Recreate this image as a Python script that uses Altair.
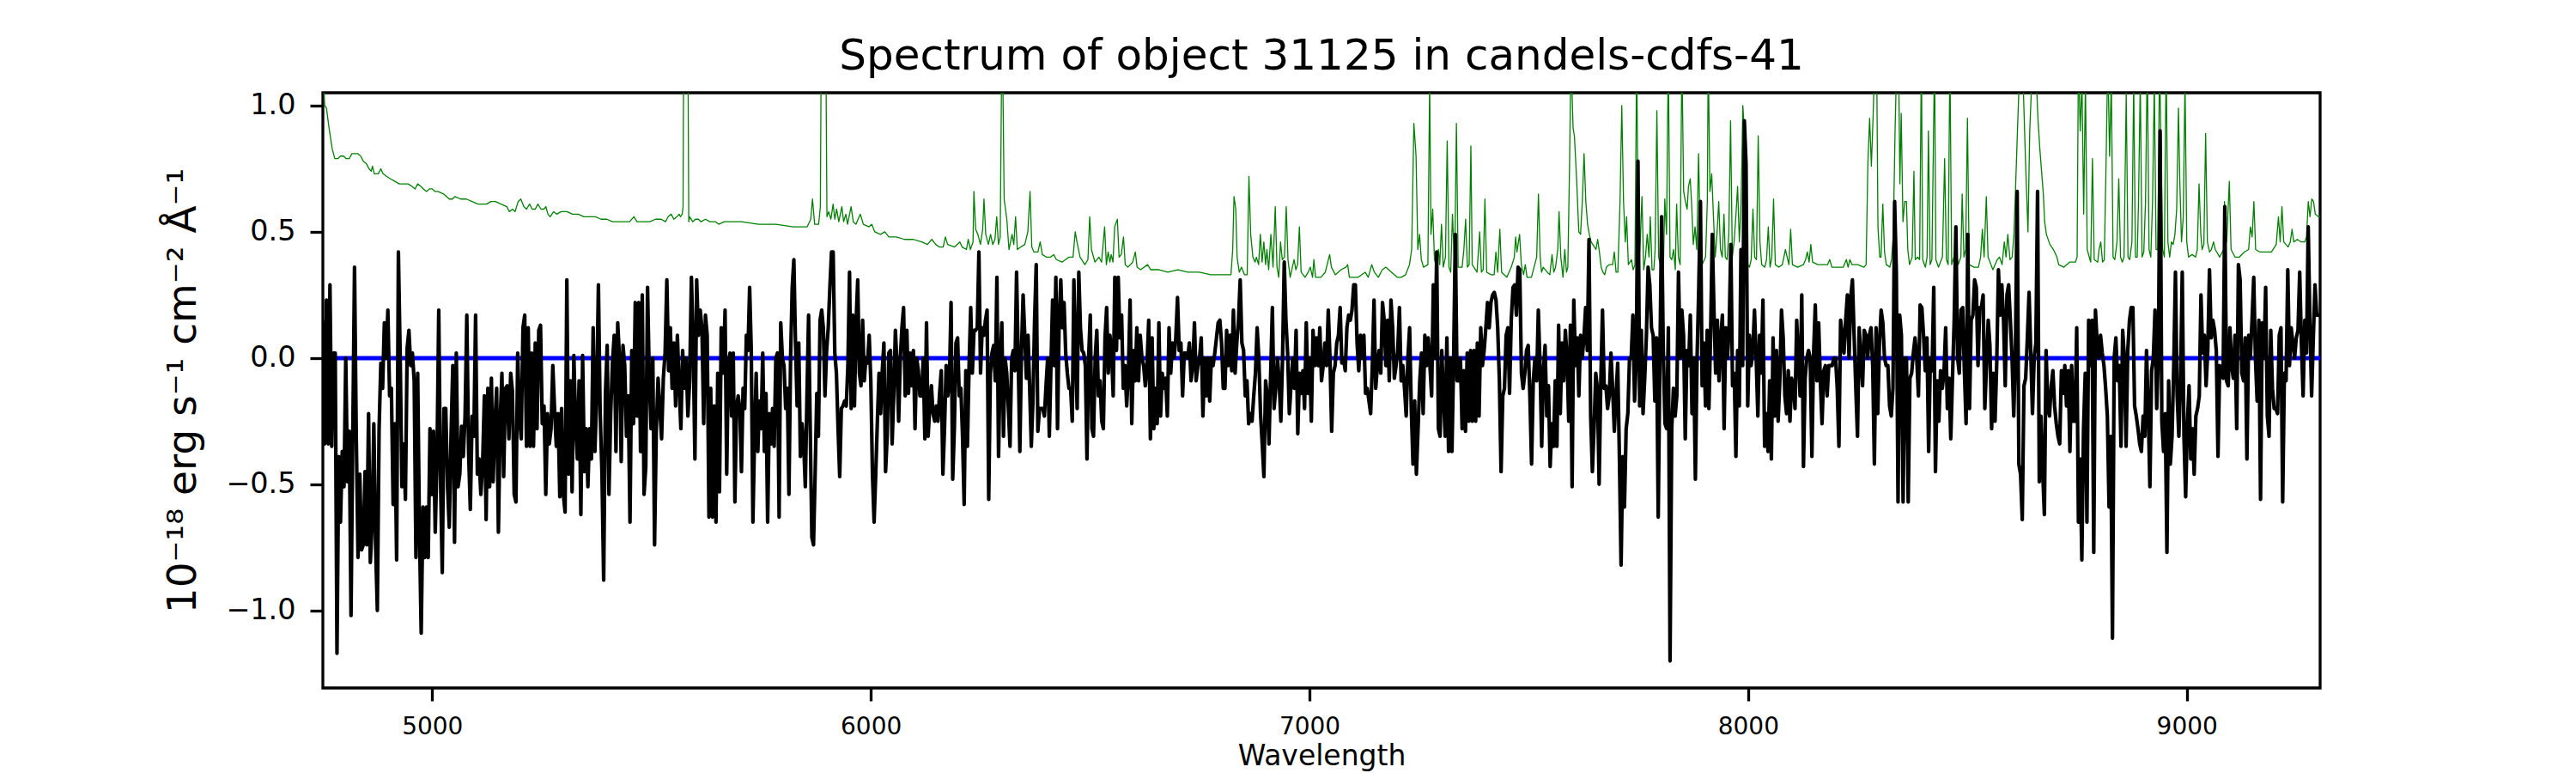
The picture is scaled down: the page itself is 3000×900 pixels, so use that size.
import altair as alt
import numpy as np
import pandas as pd

TITLE = "Spectrum of object 31125 in candels-cdfs-41"
Y_TITLE = "10⁻¹⁸ erg s⁻¹ cm⁻² Å⁻¹"
X_TITLE = "Wavelength"
X_TICKS = [5000, 6000, 7000, 8000, 9000]
Y_TICKS = [-1.0, -0.5, 0.0, 0.5, 1.0]

# wavelength span (Angstrom) of each stretch of the flux spectrum
seg_ranges = [(4751, 5659), (5664, 6560), (6564, 7460), (7464, 8361), (8365, 9304)]

flux_1 = [0.15, -0.34, 0.23, -0.34, 0.29, -0.35, 0.02, 0.02, -1.17, -0.39, -0.65, -0.37, -0.51, 0.00, -0.49, -0.29, -1.02, -0.31, 0.36, -0.31, -0.79, -0.46, -0.76, -0.74, -0.45, -0.74, -0.22, -0.81, -0.66, -0.26, -0.74, -1.00, -0.28, -0.02, -0.12, 0.14, 0.00, 0.19, -0.15, -0.12, -0.58, -0.26, -0.80, 0.42, 0.02, -0.51, -0.34, -0.56, 0.04, 0.11, -0.03, 0.02, -0.09, -0.79, -0.06, -0.68, -1.09, -0.59, -0.79, -0.59, -0.79, -0.28, -0.54, -0.29, -0.69, -0.40, 0.19, -0.48, -0.85, -0.20, -0.20, -0.51, -0.67, -0.31, -0.03, -0.73, 0.02, -0.51, -0.46, -0.27, -0.39, -0.23, 0.17, -0.37, -0.60, -0.23, -0.31, 0.17, -0.46, -0.40, -0.54, -0.42, -0.15, -0.64, -0.12, -0.51, -0.08, -0.49, -0.26, -0.12, -0.69, -0.25, -0.06, -0.47, -0.12, -0.11, -0.32, -0.06, -0.13, -0.54, -0.57, 0.02, -0.23, -0.32, 0.12, 0.17, -0.35, 0.12, -0.35, 0.02, -0.35, 0.06, -0.28, 0.11, 0.13, -0.26, -0.19, -0.54, -0.22, -0.34, -0.28, -0.03, -0.20, -0.35, -0.22, -0.55, -0.20, -0.54, -0.61, 0.31, -0.46, -0.09, -0.53, 0.01, -0.26, -0.40, -0.09, -0.62, 0.01, -0.45, -0.28, -0.51, -0.28, -0.40, 0.12, -0.37, -0.15, 0.29, -0.22, -0.45, -0.88, -0.14, 0.05, -0.54, -0.22, -0.02, 0.09, -0.37, 0.14, 0.00, -0.41, 0.05, -0.03, -0.31, -0.15, -0.65, 0.03, -0.26, 0.22, -0.23, 0.22, -0.37, 0.25, -0.54, -0.43, 0.28, -0.08, -0.28, 0.00, -0.74, -0.28, -0.08, -0.20, -0.32, -0.08, 0.02, 0.31, -0.05, 0.12, -0.12, 0.06, -0.19, 0.09, -0.11, -0.28, 0.03, -0.12, 0.00, -0.23, -0.09, 0.32, 0.06, -0.40, 0.31, 0.09, 0.19, 0.12, -0.26, 0.17, 0.09, -0.63, -0.12, -0.63, -0.19, -0.65, -0.06, -0.53, 0.12]

flux_2 = [-0.06, 0.19, -0.46, -0.03, 0.02, -0.23, 0.02, -0.57, -0.19, -0.15, -0.20, -0.45, -0.12, -0.20, 0.09, 0.03, 0.28, 0.03, -0.65, -0.31, -0.06, -0.37, -0.17, -0.28, 0.02, -0.37, -0.14, -0.65, -0.22, -0.34, -0.20, -0.35, 0.00, 0.02, -0.63, 0.14, 0.00, -0.03, -0.20, -0.12, -0.54, 0.00, 0.28, 0.39, 0.06, -0.19, 0.06, -0.39, -0.26, -0.34, -0.51, -0.15, 0.17, -0.28, -0.71, -0.74, -0.46, -0.14, -0.31, 0.15, 0.19, 0.12, -0.15, 0.03, 0.12, 0.28, 0.42, 0.42, 0.02, -0.06, -0.28, -0.47, -0.20, -0.19, -0.17, -0.19, -0.03, 0.34, -0.20, 0.17, -0.19, 0.14, 0.31, -0.06, -0.11, 0.15, -0.09, 0.00, -0.02, 0.09, -0.09, -0.46, -0.65, -0.46, -0.25, -0.06, -0.22, -0.05, 0.06, -0.45, -0.31, 0.02, 0.03, -0.34, -0.15, 0.11, -0.03, -0.25, 0.00, 0.12, 0.20, -0.15, 0.11, -0.14, 0.02, -0.11, 0.03, -0.28, 0.00, -0.05, -0.15, -0.15, 0.00, -0.32, 0.14, -0.31, -0.19, -0.11, -0.22, -0.25, -0.19, -0.25, -0.14, -0.05, -0.46, -0.28, -0.03, -0.15, -0.09, 0.22, -0.48, -0.28, 0.06, 0.08, -0.15, -0.12, -0.31, -0.58, -0.05, -0.35, -0.03, 0.20, -0.06, 0.11, 0.11, 0.12, 0.42, -0.06, 0.12, 0.09, 0.15, 0.19, -0.56, -0.06, 0.02, 0.05, -0.09, 0.32, -0.39, -0.03, 0.14, -0.31, 0.00, -0.06, -0.20, -0.35, 0.00, 0.03, -0.05, 0.34, 0.00, -0.37, 0.03, 0.25, 0.09, -0.08, 0.09, -0.12, -0.35, -0.17, 0.15, 0.37, -0.29, -0.20, -0.20, -0.20, -0.23, -0.11, 0.00, -0.31, -0.03, 0.23, -0.03, 0.32, -0.28, 0.15, 0.31, 0.12, 0.22, 0.02, -0.06, -0.12, -0.12, -0.25, 0.31, 0.03, -0.20, 0.34, 0.12, 0.03, 0.02, -0.03, -0.40, 0.00, 0.17, -0.28, -0.31, 0.00, 0.11, -0.15, -0.09, -0.25, -0.28, 0.08, 0.20, -0.06, 0.09, 0.03, -0.15, 0.32, 0.03]

flux_3 = [0.32, 0.08, 0.17, -0.12, -0.03, -0.19, -0.06, 0.23, -0.26, 0.03, -0.09, 0.12, -0.09, 0.09, 0.00, -0.03, -0.11, -0.03, 0.15, -0.32, 0.08, -0.28, -0.12, -0.26, 0.14, -0.23, -0.06, -0.12, -0.08, -0.23, 0.12, -0.06, 0.06, 0.00, 0.08, 0.24, 0.03, 0.06, -0.15, 0.02, 0.02, 0.00, 0.06, -0.09, -0.03, 0.14, -0.09, -0.03, 0.00, 0.08, -0.23, 0.00, -0.15, 0.00, -0.17, 0.00, -0.03, 0.02, 0.08, 0.14, 0.15, 0.06, -0.12, -0.12, 0.11, -0.03, 0.09, -0.05, 0.19, -0.06, 0.06, 0.15, 0.31, 0.06, 0.03, -0.15, -0.09, -0.26, -0.22, -0.25, -0.15, -0.06, 0.12, 0.00, -0.22, -0.34, -0.47, -0.09, -0.15, -0.34, -0.06, 0.20, -0.20, -0.12, 0.00, -0.09, -0.25, 0.00, 0.38, 0.15, 0.02, -0.22, -0.11, 0.00, -0.12, 0.11, -0.30, -0.06, -0.14, -0.05, -0.20, 0.14, -0.14, 0.00, -0.25, 0.11, -0.03, 0.08, -0.03, 0.12, -0.09, -0.03, 0.06, -0.03, 0.19, 0.00, -0.29, -0.06, -0.03, 0.06, 0.09, 0.20, -0.02, 0.00, -0.05, 0.12, 0.17, 0.15, 0.19, 0.29, 0.29, 0.06, -0.05, 0.09, 0.00, 0.09, -0.14, -0.12, -0.17, -0.22, -0.03, 0.23, -0.12, -0.03, 0.03, -0.06, 0.22, 0.15, -0.03, 0.15, -0.09, 0.23, 0.12, -0.08, -0.03, 0.03, 0.20, -0.09, -0.03, -0.12, -0.23, 0.00, 0.12, -0.20, -0.42, -0.17, -0.46, -0.28, -0.09, 0.02, -0.22, 0.09, -0.03, 0.08, -0.03, -0.15, 0.29, 0.00, 0.42, -0.28, -0.31, 0.03, -0.15, -0.31, 0.08, -0.37, 0.00, -0.37, 0.00, 0.49, -0.09, -0.09, 0.00, -0.28, -0.05, -0.29, 0.02, -0.25, 0.03, -0.25, 0.03, -0.25, 0.06, -0.23, 0.12, -0.03, 0.03, 0.12, 0.22, 0.12, 0.22, 0.25, 0.26, 0.23, 0.12, -0.09, -0.45, -0.15, -0.12, 0.09, 0.12, -0.14, 0.15]

flux_4 = [0.28, 0.29, 0.17, 0.36, 0.35, -0.06, -0.12, -0.06, 0.03, 0.05, -0.15, -0.42, -0.09, 0.00, -0.09, 0.19, -0.03, -0.35, -0.05, 0.05, -0.23, -0.11, -0.43, -0.26, -0.35, -0.09, -0.35, 0.13, -0.22, 0.06, -0.09, 0.11, 0.00, -0.25, 0.13, -0.51, 0.23, -0.03, 0.08, -0.15, 0.09, 0.00, 0.08, 0.20, 0.03, 0.47, -0.23, -0.45, -0.28, -0.06, -0.12, -0.50, -0.09, 0.19, -0.12, -0.11, -0.20, -0.15, 0.02, -0.12, -0.29, -0.15, -0.02, -0.39, -0.82, -0.39, -0.59, -0.28, -0.22, 0.00, 0.00, 0.17, -0.17, 0.00, 0.78, -0.19, 0.11, -0.22, -0.08, 0.09, 0.36, 0.29, 0.12, 0.09, -0.17, 0.08, -0.63, 0.00, 0.56, 0.03, -0.26, -0.28, 0.12, -1.20, -0.28, -0.12, -0.23, -0.15, 0.34, 0.00, 0.19, 0.09, -0.32, 0.03, -0.03, 0.17, -0.22, 0.00, -0.48, 0.00, 0.28, 0.62, -0.11, 0.06, -0.19, 0.11, -0.20, 0.09, 0.49, 0.19, -0.06, 0.15, -0.09, 0.08, 0.17, -0.28, 0.12, 0.00, 0.12, 0.45, -0.11, -0.06, -0.39, 0.03, -0.19, 0.43, -0.03, 0.94, 0.77, -0.19, 0.09, -0.03, 0.03, 0.19, 0.00, -0.23, 0.09, -0.06, 0.23, -0.35, -0.22, -0.37, -0.09, -0.40, 0.08, -0.23, 0.03, -0.25, -0.09, 0.19, 0.08, -0.15, -0.22, -0.05, -0.25, -0.08, -0.11, -0.20, 0.15, 0.00, -0.15, 0.25, -0.43, -0.08, 0.00, 0.03, 0.00, -0.39, 0.02, 0.21, -0.09, 0.14, -0.09, -0.26, -0.05, -0.03, -0.15, -0.03, -0.03, -0.03, 0.00, 0.00, -0.12, -0.35, 0.15, 0.09, 0.02, 0.15, 0.25, 0.00, 0.24, 0.31, 0.09, -0.12, -0.31, 0.12, 0.00, -0.11, 0.11, 0.09, 0.00, 0.09, 0.12, -0.03, -0.42, 0.12, -0.22, 0.06, 0.19, 0.14, 0.00, -0.03, -0.03, -0.19, -0.23, -0.12, 0.62, 0.34, -0.57, 0.17, 0.09, -0.57, 0.00, 0.00]

flux_5 = [-0.57, -0.08, -0.06, 0.02, 0.08, 0.00, -0.15, 0.21, 0.20, 0.09, -0.05, 0.08, -0.37, 0.00, -0.05, 0.28, -0.45, -0.09, -0.25, -0.05, -0.12, -0.06, 0.12, -0.20, -0.08, -0.32, -0.08, 0.15, 0.52, 0.00, -0.06, 0.19, 0.20, -0.05, -0.26, 0.49, -0.20, 0.15, 0.17, 0.31, 0.28, -0.03, 0.20, 0.20, 0.25, -0.20, -0.03, 0.15, 0.05, -0.28, -0.06, -0.25, -0.02, 0.35, 0.17, 0.29, 0.15, -0.11, 0.25, 0.29, 0.15, 0.00, -0.23, 0.03, 0.66, -0.42, -0.46, -0.64, -0.11, -0.08, 0.08, 0.26, 0.02, -0.22, 0.00, 0.06, 0.66, -0.49, -0.23, -0.45, -0.62, 0.03, -0.19, -0.23, -0.11, -0.05, -0.19, -0.26, -0.31, -0.34, -0.05, -0.14, -0.03, -0.19, -0.05, -0.37, -0.03, -0.25, -0.25, 0.12, -0.65, -0.40, -0.80, -0.28, -0.06, -0.65, 0.15, -0.03, 0.15, -0.77, 0.19, 0.06, 0.00, 0.09, 0.02, -0.03, -0.12, -0.23, -0.59, -0.31, -1.11, 0.00, 0.08, -0.09, -0.03, -0.35, 0.11, 0.00, -0.35, 0.03, 0.15, 0.20, 0.20, -0.19, -0.23, -0.28, -0.34, -0.37, -0.23, -0.31, 0.03, -0.20, -0.51, -0.05, 0.00, 0.19, -0.20, 0.03, 0.90, -0.25, -0.37, -0.22, -0.77, -0.09, -0.42, -0.31, -0.03, 0.34, -0.15, -0.31, -0.09, 0.34, -0.31, -0.55, -0.26, -0.11, -0.40, -0.28, -0.46, -0.23, -0.20, -0.15, 0.25, 0.02, 0.09, -0.11, 0.03, 0.35, 0.08, 0.15, 0.11, 0.03, -0.39, -0.03, -0.06, -0.08, 0.60, -0.09, -0.11, 0.12, -0.03, -0.08, 0.09, -0.28, 0.37, 0.31, -0.06, -0.09, 0.08, -0.40, 0.09, 0.00, 0.15, 0.32, 0.00, -0.17, 0.15, -0.56, 0.14, 0.00, 0.28, -0.23, -0.31, 0.11, -0.12, -0.20, -0.20, -0.22, 0.09, 0.12, -0.57, -0.06, -0.09, 0.35, -0.03, 0.12, 0.06, 0.00, 0.08, 0.11, 0.34, 0.06, -0.15, 0.15, 0.02, 0.52, 0.15, -0.15, 0.08, 0.29, 0.17, 0.17, 0.17]

# noise (sky) spectrum: wavelengths and values
noise_wl = [4751, 4755, 4759, 4765, 4772, 4778, 4785, 4791, 4798, 4804, 4811, 4817, 4823, 4830, 4837, 4843, 4850, 4856, 4861, 4864, 4868, 4873, 4877, 4883, 4888, 4896, 4905, 4915, 4925, 4935, 4945, 4954, 4961, 4967, 4974, 4980, 4987, 4994, 5000, 5007, 5013, 5026, 5039, 5046, 5052, 5065, 5078, 5091, 5104, 5114, 5124, 5134, 5144, 5157, 5170, 5176, 5183, 5189, 5196, 5202, 5209, 5215, 5222, 5228, 5235, 5241, 5248, 5255, 5259, 5264, 5269, 5277, 5284, 5294, 5307, 5320, 5333, 5346, 5359, 5372, 5385, 5398, 5411, 5424, 5437, 5450, 5460, 5467, 5483, 5496, 5509, 5522, 5532, 5538, 5545, 5551, 5558, 5563, 5566, 5570, 5572, 5574, 5582, 5585, 5587, 5594, 5600, 5607, 5613, 5623, 5633, 5646, 5653,
            5666, 5705, 5744, 5784, 5823, 5855, 5863, 5867, 5872, 5881, 5885, 5888, 5896, 5900, 5904, 5909, 5914, 5918, 5922, 5927, 5934, 5938, 5943, 5947, 5955, 5960, 5966, 5976, 5983, 5996, 6002, 6009, 6022, 6032, 6041, 6058, 6077, 6097, 6116, 6129, 6139, 6148, 6156, 6165, 6170, 6175, 6191, 6203, 6208, 6218, 6222, 6227, 6233, 6235, 6239, 6244, 6250, 6255, 6258, 6262, 6268, 6273, 6278, 6283, 6287, 6291, 6295, 6298, 6301, 6304, 6310, 6315, 6322, 6326, 6330, 6334, 6342, 6351, 6358, 6363, 6367, 6372, 6381, 6386, 6391, 6400, 6410, 6417, 6423, 6436, 6452, 6461, 6466, 6470, 6477, 6488, 6495, 6499, 6503, 6511, 6520, 6526, 6533, 6537, 6541, 6545, 6548, 6552, 6556,
            6562, 6566, 6571, 6576, 6580, 6586, 6597, 6603, 6607, 6615, 6631, 6638, 6657, 6677, 6700, 6723, 6749, 6775, 6801, 6821, 6825, 6828, 6832, 6835, 6840, 6845, 6852, 6858, 6862, 6866, 6871, 6876, 6879, 6884, 6888, 6892, 6896, 6900, 6903, 6907, 6912, 6917, 6922, 6926, 6930, 6934, 6938, 6943, 6947, 6951, 6956, 6961, 6965, 6969, 6973, 6977, 6981, 6990, 6997, 7002, 7007, 7010, 7014, 7026, 7036, 7046, 7050, 7059, 7072, 7083, 7087, 7091, 7111, 7127, 7134, 7142, 7148, 7157, 7166, 7174, 7187, 7200, 7209, 7219, 7228, 7233, 7238, 7243, 7247, 7251, 7255, 7260, 7270, 7274, 7277, 7281, 7285, 7290, 7294, 7297, 7301, 7305, 7310, 7314, 7318, 7322, 7326, 7331, 7335, 7339, 7348, 7352, 7356, 7360, 7364, 7368, 7371, 7382, 7388, 7392, 7396, 7400, 7404, 7414, 7421, 7425, 7429, 7434, 7438, 7450,
            7460, 7467, 7470, 7473, 7479, 7483, 7488, 7492, 7496, 7506, 7512, 7518, 7522, 7526, 7529, 7533, 7542, 7548, 7553, 7557, 7561, 7566, 7569, 7573, 7578, 7582, 7586, 7589, 7593, 7596, 7601, 7604, 7609, 7614, 7618, 7622, 7626, 7630, 7634, 7638, 7642, 7646, 7653, 7657, 7661, 7665, 7669, 7673, 7677, 7683, 7691, 7695, 7699, 7703, 7708, 7712, 7716, 7720, 7723, 7727, 7734, 7738, 7742, 7746, 7750, 7754, 7758, 7762, 7766, 7770, 7774, 7777, 7781, 7785, 7788, 7792, 7796, 7800, 7804, 7807, 7810, 7814, 7818, 7822, 7826, 7830, 7834, 7837, 7841, 7845, 7849, 7853, 7857, 7861, 7864, 7868, 7871, 7875, 7879, 7883, 7887, 7891, 7895, 7903, 7907, 7909, 7913, 7917, 7921, 7925, 7929, 7933, 7937, 7941, 7945, 7948, 7952, 7956, 7960, 7964, 7968, 7972, 7976, 7980, 7984, 7988, 7991, 7995, 7999, 8003, 8007, 8011, 8015, 8019, 8023, 8027, 8031, 8038, 8042, 8046, 8050, 8054, 8058, 8062, 8070, 8078, 8085, 8089, 8093, 8097, 8101, 8113, 8126, 8131, 8135, 8139, 8143, 8147, 8159, 8170, 8181, 8186, 8191, 8204, 8217, 8224, 8228, 8232, 8237, 8250, 8264, 8269, 8273, 8277, 8281, 8285, 8289, 8293, 8296, 8300, 8303, 8307, 8311, 8315, 8323, 8327, 8331, 8335, 8339, 8343, 8346, 8349, 8353, 8357,
            8361, 8364, 8368, 8374, 8378, 8381, 8387, 8391, 8395, 8398, 8404, 8408, 8411, 8415, 8419, 8425, 8428, 8434, 8443, 8448, 8452, 8456, 8460, 8464, 8469, 8474, 8479, 8485, 8488, 8492, 8496, 8500, 8504, 8515, 8525, 8530, 8534, 8538, 8543, 8547, 8558, 8568, 8573, 8579, 8584, 8588, 8592, 8597, 8602, 8606, 8610, 8614, 8618, 8626, 8632, 8638, 8642, 8649, 8657, 8661, 8665, 8669, 8673, 8676, 8680, 8688, 8696, 8704, 8708, 8720, 8733, 8746, 8750, 8753, 8757, 8761, 8765, 8769, 8773, 8781, 8785, 8789, 8797, 8800, 8804, 8808, 8812, 8816, 8820, 8824, 8828, 8832, 8836, 8841, 8845, 8849, 8853, 8857, 8862, 8866, 8870, 8875, 8879, 8883, 8887, 8890, 8894, 8898, 8902, 8906, 8910, 8914, 8918, 8922, 8926, 8930, 8934, 8938, 8941, 8945, 8949, 8953, 8957, 8961, 8965, 8969, 8973, 8977, 8981, 8984, 8988, 8992, 8996, 9000, 9004, 9012, 9020, 9024, 9028, 9032, 9035, 9039, 9043, 9047, 9052, 9056, 9061, 9065, 9075, 9084, 9086, 9091, 9097, 9101, 9110, 9120, 9131, 9141, 9145, 9149, 9153, 9157, 9167, 9183, 9193, 9204, 9209, 9213, 9217, 9221, 9231, 9236, 9240, 9244, 9252, 9261, 9269, 9273, 9277, 9281, 9285, 9289, 9293, 9300, 9304]

noise_val = [1.15, 1.00, 0.99, 0.91, 0.83, 0.79, 0.79, 0.80, 0.80, 0.79, 0.79, 0.81, 0.81, 0.81, 0.80, 0.78, 0.77, 0.75, 0.74, 0.76, 0.73, 0.73, 0.73, 0.75, 0.73, 0.72, 0.71, 0.70, 0.69, 0.69, 0.69, 0.68, 0.67, 0.69, 0.68, 0.67, 0.66, 0.67, 0.67, 0.66, 0.66, 0.65, 0.63, 0.63, 0.64, 0.63, 0.63, 0.62, 0.61, 0.61, 0.61, 0.62, 0.62, 0.61, 0.60, 0.58, 0.59, 0.58, 0.62, 0.63, 0.60, 0.59, 0.61, 0.59, 0.59, 0.61, 0.59, 0.59, 0.60, 0.57, 0.56, 0.58, 0.57, 0.58, 0.58, 0.57, 0.57, 0.56, 0.56, 0.56, 0.55, 0.55, 0.54, 0.54, 0.54, 0.54, 0.56, 0.54, 0.54, 0.54, 0.55, 0.55, 0.54, 0.56, 0.57, 0.55, 0.56, 0.57, 0.56, 0.57, 0.60, 1.60, 1.60, 0.54, 0.56, 0.54, 0.55, 0.55, 0.54, 0.55, 0.54, 0.54, 0.53,
             0.54, 0.54, 0.53, 0.53, 0.52, 0.52, 0.55, 0.63, 0.53, 0.53, 0.60, 1.60, 1.60, 0.56, 0.58, 0.55, 0.61, 0.55, 0.59, 0.54, 0.60, 0.54, 0.57, 0.53, 0.60, 0.54, 0.53, 0.57, 0.53, 0.52, 0.53, 0.50, 0.49, 0.50, 0.48, 0.48, 0.47, 0.47, 0.46, 0.45, 0.47, 0.45, 0.44, 0.44, 0.48, 0.45, 0.44, 0.46, 0.44, 0.43, 0.47, 0.43, 0.46, 0.66, 0.51, 0.49, 0.45, 0.51, 0.63, 0.49, 0.45, 0.49, 0.45, 0.47, 0.56, 0.45, 0.48, 1.10, 1.10, 0.63, 0.55, 0.43, 0.49, 0.45, 0.56, 0.43, 0.44, 0.45, 0.50, 0.66, 0.44, 0.42, 0.42, 0.46, 0.41, 0.40, 0.40, 0.41, 0.39, 0.38, 0.40, 0.40, 0.50, 0.46, 0.40, 0.37, 0.39, 0.56, 0.43, 0.38, 0.40, 0.38, 0.52, 0.37, 0.42, 0.38, 0.41, 0.38, 0.52,
             0.55, 0.40, 0.41, 0.48, 0.37, 0.36, 0.38, 0.42, 0.36, 0.35, 0.37, 0.35, 0.35, 0.34, 0.35, 0.34, 0.34, 0.33, 0.33, 0.33, 0.43, 0.64, 0.59, 0.40, 0.34, 0.36, 0.33, 0.33, 0.72, 0.49, 0.40, 0.38, 0.40, 0.37, 0.49, 0.38, 0.46, 0.37, 0.43, 0.35, 0.49, 0.36, 0.60, 0.36, 0.32, 0.46, 0.39, 0.40, 0.60, 0.39, 0.32, 0.36, 0.39, 0.35, 0.37, 0.52, 0.34, 0.32, 0.34, 0.36, 0.32, 0.39, 0.32, 0.32, 0.34, 0.41, 0.36, 0.33, 0.35, 0.36, 0.37, 0.32, 0.32, 0.34, 0.32, 0.37, 0.34, 0.32, 0.35, 0.36, 0.34, 0.32, 0.32, 0.33, 0.37, 0.43, 0.93, 0.80, 0.43, 0.49, 0.39, 0.36, 0.37, 1.10, 0.49, 0.59, 0.39, 0.36, 0.43, 0.37, 0.53, 0.36, 0.40, 0.86, 0.36, 0.34, 0.57, 0.36, 0.93, 0.36, 0.36, 0.43, 0.55, 0.36, 0.37, 0.84, 0.37, 0.34, 0.50, 0.34, 0.35, 0.63, 0.34, 0.33, 0.33, 0.42, 0.34, 0.51, 0.34, 0.32,
             0.36, 0.40, 0.48, 0.42, 0.49, 0.37, 0.33, 0.37, 0.32, 0.32, 0.36, 0.40, 0.65, 0.40, 0.34, 0.36, 0.34, 0.33, 0.41, 0.34, 0.36, 0.43, 0.58, 0.40, 0.32, 0.43, 0.34, 0.36, 0.77, 1.20, 0.91, 0.88, 0.71, 0.50, 0.49, 0.62, 0.81, 0.62, 0.53, 0.49, 0.46, 0.45, 0.43, 0.47, 0.42, 0.36, 0.34, 0.33, 0.36, 0.37, 0.37, 0.42, 0.34, 0.34, 0.62, 1.00, 0.62, 0.46, 0.56, 0.37, 0.39, 0.35, 0.37, 1.20, 0.34, 0.46, 0.64, 0.35, 0.40, 0.49, 0.40, 0.56, 0.35, 0.35, 0.43, 0.98, 0.40, 0.37, 0.43, 0.37, 0.63, 0.49, 1.20, 0.40, 0.39, 0.43, 0.35, 0.61, 0.40, 0.37, 1.20, 0.66, 0.62, 0.59, 0.68, 0.71, 0.62, 0.45, 0.52, 0.43, 0.81, 0.46, 0.37, 0.40, 0.62, 1.20, 0.66, 0.73, 0.56, 0.40, 0.49, 0.62, 0.43, 0.40, 0.57, 0.40, 0.39, 0.49, 0.94, 0.40, 0.46, 0.56, 0.68, 0.46, 0.62, 1.00, 0.91, 0.40, 0.37, 0.36, 0.39, 0.59, 0.40, 0.39, 0.88, 0.46, 0.37, 0.36, 0.39, 0.52, 0.36, 0.40, 0.63, 0.37, 0.36, 0.37, 0.43, 0.40, 0.37, 0.51, 0.37, 0.36, 0.37, 0.39, 0.42, 0.38, 0.45, 0.38, 0.37, 0.37, 0.37, 0.39, 0.36, 0.36, 0.36, 0.39, 0.36, 0.39, 0.37, 0.37, 0.36, 0.37, 0.77, 0.95, 0.76, 0.96, 1.20, 1.20, 0.52, 0.40, 0.40, 0.61, 0.42, 0.37, 0.36, 0.39, 0.49, 0.90, 1.20, 1.20, 0.69, 0.97, 0.54, 0.62,
             0.62, 0.43, 0.37, 0.40, 0.74, 0.39, 0.40, 0.39, 1.20, 0.39, 0.36, 0.40, 0.90, 0.37, 0.39, 1.20, 0.39, 0.36, 0.40, 0.79, 0.39, 0.37, 1.20, 0.37, 0.40, 0.43, 0.37, 0.40, 0.65, 0.40, 0.43, 0.95, 0.37, 0.36, 0.36, 0.40, 0.51, 0.40, 0.64, 0.40, 0.35, 0.39, 0.40, 0.37, 0.46, 0.40, 0.49, 0.39, 0.40, 0.49, 0.69, 0.90, 1.10, 1.15, 0.80, 0.50, 0.90, 1.20, 1.10, 0.94, 0.83, 0.74, 0.65, 0.54, 0.49, 0.45, 0.43, 0.40, 0.37, 0.36, 0.38, 0.38, 0.40, 1.20, 0.90, 1.10, 0.57, 1.10, 0.43, 0.38, 0.79, 0.39, 0.38, 0.43, 0.46, 0.38, 0.39, 0.77, 1.20, 0.80, 1.10, 0.40, 0.39, 0.46, 0.71, 0.40, 0.38, 0.40, 1.05, 0.40, 0.39, 0.46, 1.10, 0.40, 0.40, 0.62, 1.10, 0.40, 0.42, 0.62, 1.20, 0.43, 0.40, 0.62, 1.10, 0.43, 0.43, 1.20, 0.85, 0.43, 0.40, 1.20, 0.46, 0.40, 0.46, 0.45, 0.49, 0.59, 0.99, 0.71, 0.46, 0.56, 1.10, 0.46, 0.40, 0.41, 0.40, 0.43, 0.69, 0.49, 0.43, 0.45, 0.89, 0.46, 0.42, 0.43, 0.46, 0.43, 0.40, 0.43, 0.62, 0.46, 0.70, 0.43, 0.40, 0.40, 0.42, 0.43, 0.52, 0.48, 0.62, 0.43, 0.42, 0.42, 0.42, 0.45, 0.56, 0.46, 0.60, 0.46, 0.44, 0.46, 0.51, 0.46, 0.47, 0.46, 0.46, 0.48, 0.62, 0.56, 0.63, 0.62, 0.57, 0.56, 0.56]

# ---- tables built from the arrays above ----
wl, fl = [], []
for (a, b), seg in zip(seg_ranges, [flux_1, flux_2, flux_3, flux_4, flux_5]):
    wl.extend(np.linspace(a, b, len(seg)).tolist())
    fl.extend(seg)
flux_df = pd.DataFrame({"wl": wl, "flux": fl})
n = min(len(noise_wl), len(noise_val))
noise_df = pd.DataFrame({"wl": noise_wl[:n], "flux": noise_val[:n]})
zero_df = pd.DataFrame({"flux": [0.0]})

FONT = "DejaVu Sans"
W, H = 2326, 693

xscale = alt.Scale(domain=[4750.8, 9304], nice=False, zero=False)
yscale = alt.Scale(domain=[-1.307, 1.051], nice=False, zero=False)

x_axis = alt.Axis(values=X_TICKS, format="d", grid=False, domain=False,
                  tickSize=15, tickWidth=3.3, tickColor="black",
                  labelFont=FONT, labelFontSize=28, labelColor="black", labelPadding=16,
                  labelOverlap=False, labelFlush=False,
                  titleFont=FONT, titleFontSize=33, titleFontWeight="normal", titleColor="black",
                  titleBaseline="alphabetic", titleY=89)
y_axis = alt.Axis(values=Y_TICKS, format=".1f", grid=False, domain=False,
                  tickSize=15, tickWidth=3.3, tickColor="black",
                  labelFont=FONT, labelFontSize=33.5, labelColor="black", labelPadding=17,
                  labelOverlap=False, labelFlush=False,
                  titleFont=FONT, titleFontSize=47, titleFontWeight="normal", titleColor="black",
                  titleAngle=270, titleAlign="center", titleBaseline="alphabetic",
                  titleX=-149, titleY=H / 2)

noise = alt.Chart(noise_df).mark_line(color="#008000", strokeWidth=1.3, clip=True,
                                      strokeJoin="round").encode(
    x=alt.X("wl:Q", scale=xscale, axis=x_axis, title=X_TITLE),
    y=alt.Y("flux:Q", scale=yscale, axis=y_axis, title=Y_TITLE),
)
zero = alt.Chart(zero_df).mark_rule(color="#0000ff", strokeWidth=5).encode(
    y=alt.Y("flux:Q", scale=yscale)
)
spec = alt.Chart(flux_df).mark_line(color="black", strokeWidth=4.2, clip=True,
                                    strokeJoin="round").encode(
    x=alt.X("wl:Q", scale=xscale),
    y=alt.Y("flux:Q", scale=yscale),
)

chart = alt.layer(noise, zero, spec).properties(
    width=W, height=H,
    title=alt.Title(TITLE, font=FONT, fontSize=50, fontWeight="normal", color="black",
                    anchor="middle", baseline="alphabetic", offset=25, dy=50),
    autosize=alt.AutoSizeParams(type="none"),
    padding={"left": 368, "top": 100, "right": 290, "bottom": 98},
    background="white",
).configure_view(stroke="black", strokeWidth=3.3)

chart.save("out.html", embed_options={"renderer": "svg", "actions": False})
